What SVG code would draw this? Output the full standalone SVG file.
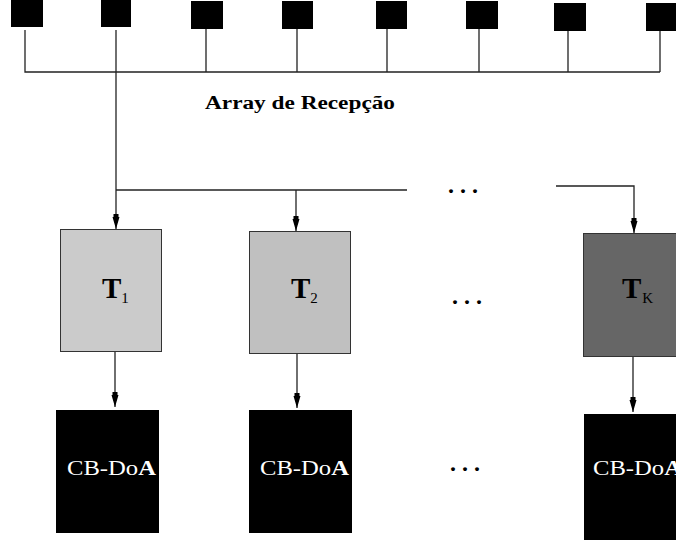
<svg xmlns="http://www.w3.org/2000/svg" width="676" height="540" viewBox="0 0 676 540">
<style>
.ant{fill:#000}
.ln{stroke:#222;stroke-width:1.3;fill:none}
.box{stroke:#333;stroke-width:1}
.lbl{font-family:"Liberation Serif","Times New Roman",serif;font-weight:bold;fill:#000}
.sub{font-weight:normal}
.dots{font-family:"Liberation Serif",serif;font-weight:bold;font-size:24px;fill:#000}
.cb{font-family:"Liberation Serif","Times New Roman",serif;font-size:21px;fill:#fff}
</style>
<defs>
<marker id="arr" viewBox="0 0 15 8" refX="15" refY="4" markerWidth="15" markerHeight="8" markerUnits="userSpaceOnUse" orient="auto">
<path d="M0,1.5 H5 V6.5 H0 Z M3,0.5 L15,4 L3,7.5 Z" fill="#000"/>
</marker>
</defs>
<g id="connectors">
<path class="ln" d="M25,30 V72 H660"/>
<path class="ln" d="M206,29 V72 M297,29 V72 M387,29 V72 M479,29 V72 M568,31 V72 M660,31 V72"/>
<path class="ln" d="M116,30 V72" stroke-width="2.2"/>
<path class="ln" d="M116,72 V229" marker-end="url(#arr)"/>
<path class="ln" d="M116,190 H407"/>
<path class="ln" d="M296,190 V231" marker-end="url(#arr)"/>
<path class="ln" d="M556,186 H634 V233" marker-end="url(#arr)"/>
<path class="ln" d="M115,352 V407" marker-end="url(#arr)"/>
<path class="ln" d="M297,353 V408" marker-end="url(#arr)"/>
<path class="ln" d="M633,357 V412" marker-end="url(#arr)"/>
</g>
<g id="array">
<rect class="ant" x="11" y="0" width="32" height="27"/>
<rect class="ant" x="101" y="0" width="30" height="27"/>
<rect class="ant" x="191" y="1" width="32" height="28"/>
<rect class="ant" x="282" y="1" width="31" height="28"/>
<rect class="ant" x="376" y="1" width="31" height="28"/>
<rect class="ant" x="466" y="1" width="32" height="28"/>
<rect class="ant" x="554" y="3" width="32" height="28"/>
<rect class="ant" x="646" y="3" width="32" height="28"/>
<text class="lbl" x="205" y="109" font-size="18" textLength="190" lengthAdjust="spacingAndGlyphs">Array de Recepção</text>
</g>
<g id="T1">
<rect class="box" x="60.5" y="229.5" width="101" height="122" fill="#cbcbcb"/>
<text class="lbl" x="102" y="298" font-size="29">T<tspan class="sub" font-size="15" dy="5">1</tspan></text>
</g>
<g id="T2">
<rect class="box" x="249.5" y="231.5" width="101" height="122" fill="#c0c0c0"/>
<text class="lbl" x="291" y="298" font-size="29">T<tspan class="sub" font-size="15" dy="5">2</tspan></text>
</g>
<g id="TK">
<rect class="box" x="583.5" y="233.5" width="100" height="123" fill="#666666"/>
<text class="lbl" x="622" y="298" font-size="29">T<tspan class="sub" font-size="15" dx="1" dy="5">K</tspan></text>
</g>
<g id="CB1">
<rect x="56" y="410" width="103" height="123" fill="#000"/>
<text class="cb" x="67" y="475" textLength="89" lengthAdjust="spacingAndGlyphs">CB-Do<tspan font-weight="bold">A</tspan></text>
</g>
<g id="CB2">
<rect x="249" y="410" width="103" height="123" fill="#000"/>
<text class="cb" x="260" y="475" textLength="89" lengthAdjust="spacingAndGlyphs">CB-Do<tspan font-weight="bold">A</tspan></text>
</g>
<g id="CBK">
<rect x="584" y="414" width="100" height="130" fill="#000"/>
<text class="cb" x="593" y="475" textLength="89" lengthAdjust="spacingAndGlyphs">CB-Do<tspan font-weight="bold">A</tspan></text>
</g>
<g id="ellipses">
<text class="dots" x="448" y="193" textLength="30" lengthAdjust="spacing">...</text>
<text class="dots" x="452" y="304" textLength="30" lengthAdjust="spacing">...</text>
<text class="dots" x="450" y="471" textLength="30" lengthAdjust="spacing">...</text>
</g>
</svg>
